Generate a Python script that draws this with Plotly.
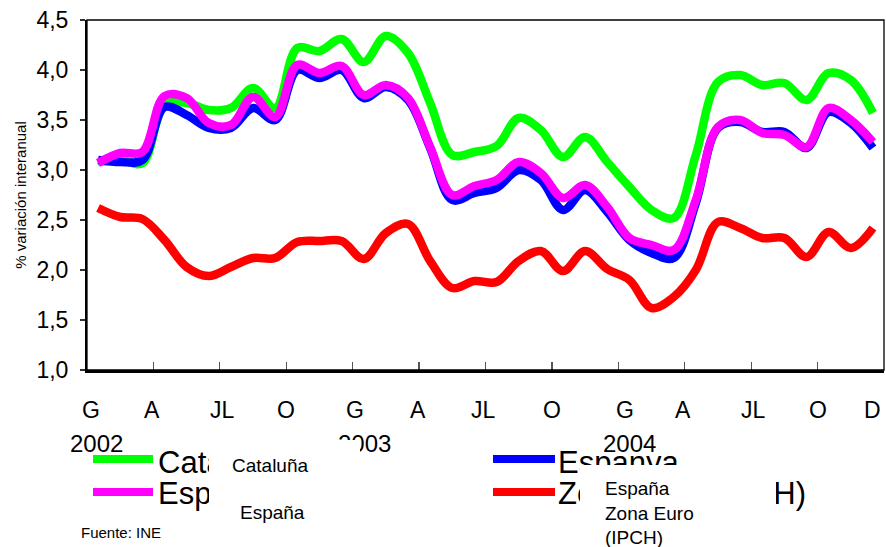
import plotly.graph_objects as go

# ---------------- data ----------------
months = list(range(36))  # Jan 2002 .. Dec 2004 (monthly)

catalunya = [3.08, 3.10, 3.07, 3.65, 3.67, 3.60, 3.62, 3.82, 3.62,
             4.22, 4.19, 4.31, 4.08, 4.34, 4.17, 3.67, 3.15, 3.18,
             3.24, 3.52, 3.40, 3.13, 3.33, 3.08, 2.83, 2.60, 2.52,
             3.15, 3.88, 3.95, 3.85, 3.87, 3.70, 3.97, 3.90, 3.57]

espanya = [3.10, 3.08, 3.10, 3.63, 3.55, 3.42, 3.42, 3.62, 3.50,
           4.00, 3.92, 4.00, 3.72, 3.83, 3.70, 3.22, 2.70, 2.77,
           2.82, 3.00, 2.90, 2.60, 2.80, 2.58, 2.30, 2.17, 2.12,
           2.67, 3.42, 3.48, 3.38, 3.38, 3.22, 3.58, 3.47, 3.22]

espanya_ipch = [3.07, 3.17, 3.18, 3.74, 3.72, 3.47, 3.45, 3.73, 3.53,
                4.05, 3.97, 4.04, 3.75, 3.85, 3.72, 3.23, 2.75, 2.84,
                2.90, 3.08, 2.97, 2.72, 2.85, 2.63, 2.32, 2.25, 2.20,
                2.70, 3.43, 3.50, 3.37, 3.35, 3.23, 3.62, 3.50, 3.28]

zona_euro = [2.62, 2.53, 2.51, 2.30, 2.03, 1.94, 2.03, 2.12, 2.12,
             2.28, 2.29, 2.29, 2.11, 2.37, 2.46, 2.09, 1.82, 1.89,
             1.88, 2.09, 2.19, 1.99, 2.19, 2.01, 1.90, 1.62, 1.73,
             2.00, 2.48, 2.42, 2.32, 2.32, 2.13, 2.38, 2.22, 2.42]

month_labels = ["G", "A", "JL", "O", "G", "A", "JL", "O", "G", "A", "JL", "O", "D"]
month_label_pos = [-0.3, 2.45, 5.6, 8.5, 11.6, 14.45, 17.4, 20.5, 23.8, 26.4, 29.6, 32.5, 35.0]
year_labels = ["2002", "2003", "2004"]
year_label_pos = [-0.05, 12.05, 24.0]

legend_big = ["Catalunya", "Espanya", "Espanya (IPCH)", "Zona Euro (IPCH)"]
legend_small_left = ["Cataluña", "España"]
legend_small_right = "España<br>Zona Euro<br>(IPCH)"

# ---------------- geometry ----------------
W, H = 886, 547
L, R, T, B = 87, 884, 20, 370
FONT = "Liberation Sans, Arial, sans-serif"


def px(x):
    return (x - L) / (R - L)


def py(y):
    return (B - y) / (B - T)


fig = go.Figure()

series = [
    ("Catalunya", catalunya, "#00FF00"),
    ("Espanya", espanya, "#0000FF"),
    ("Espanya (IPCH)", espanya_ipch, "#FF00FF"),
    ("Zona Euro (IPCH)", zona_euro, "#FF0000"),
]
for name, vals, col in series:
    fig.add_trace(go.Scatter(
        x=months, y=vals, name=name, mode="lines",
        line=dict(color=col, width=8.5, shape="spline", smoothing=1.0),
        hoverinfo="skip"))

ann = []
# month tick labels
for lab, pos in zip(month_labels, month_label_pos):
    ann.append(dict(x=pos, xref="x", y=py(410), yref="paper", text=lab,
                    showarrow=False, xanchor="center", yanchor="middle",
                    font=dict(size=23, color="black", family=FONT)))

# big legend texts (Catalan) — drawn first, partially hidden later
big_pos = [(156, 462), (556, 462), (156, 493), (556, 493)]
for txt, (bx, by) in zip(legend_big, big_pos):
    ann.append(dict(x=px(bx), xref="paper", y=py(by), yref="paper", text=txt,
                    showarrow=False, xanchor="left", yanchor="middle",
                    font=dict(size=31, color="black", family=FONT)))

# year labels
for lab, pos in zip(year_labels, year_label_pos):
    ann.append(dict(x=pos, xref="x", y=py(443), yref="paper", text=lab,
                    showarrow=False, xanchor="center", yanchor="middle",
                    font=dict(size=24, color="black", family=FONT)))

# white boxes hiding parts of legend
boxes = [(209, 440, 360, 478), (209, 478, 400, 547), (580, 465, 776, 547)]
for x0, y0, x1, y1 in boxes:
    ann.append(dict(x=px(x0), xref="paper", y=py(y0), yref="paper", text="\u00a0",
                    showarrow=False, xanchor="left", yanchor="top",
                    width=x1 - x0, height=y1 - y0, bgcolor="white",
                    borderpad=0, borderwidth=0, font=dict(size=10)))

# small Spanish labels
ann.append(dict(x=px(230), xref="paper", y=py(465), yref="paper", text=legend_small_left[0],
                showarrow=False, xanchor="left", yanchor="middle",
                font=dict(size=19, color="black", family=FONT)))
ann.append(dict(x=px(238), xref="paper", y=py(512), yref="paper", text=legend_small_left[1],
                showarrow=False, xanchor="left", yanchor="middle",
                font=dict(size=19, color="black", family=FONT)))
ann.append(dict(x=px(603), xref="paper", y=py(476), yref="paper", text=legend_small_right,
                showarrow=False, xanchor="left", yanchor="top", align="left",
                font=dict(size=19, color="black", family=FONT)))

# source
ann.append(dict(x=px(79), xref="paper", y=py(532), yref="paper", text="Fuente: INE",
                showarrow=False, xanchor="left", yanchor="middle",
                font=dict(size=15, color="black", family=FONT)))

shapes = [
    # plot frame
    dict(type="rect", xref="paper", yref="paper", x0=0, x1=1, y0=0, y1=1,
         line=dict(color="black", width=1.3), layer="above"),
]
# legend line samples
legend_lines = [(93, 153, 459, "#00FF00"), (493, 555, 459, "#0000FF"),
                (93, 153, 492, "#FF00FF"), (493, 555, 492, "#FF0000")]
for x0, x1, yy, col in legend_lines:
    shapes.append(dict(type="line", xref="paper", yref="paper",
                       x0=px(x0), x1=px(x1), y0=py(yy), y1=py(yy),
                       line=dict(color=col, width=8)))

fig.update_layout(
    width=W, height=H,
    margin=dict(l=L, r=W - R, t=T, b=H - B, autoexpand=False),
    paper_bgcolor="white", plot_bgcolor="white",
    showlegend=False,
    separators=",.",
    font=dict(family=FONT, color="black"),
    annotations=ann, shapes=shapes,
    xaxis=dict(range=[-0.5, 35.5], tickmode="array",
               tickvals=[2.5 + 3 * k for k in range(11)],
               showticklabels=False, ticks="inside", ticklen=8,
               tickcolor="#555555", tickwidth=1.3,
               showgrid=False, zeroline=False,
               showline=True, linecolor="black", linewidth=2.5),
    yaxis=dict(range=[1.0, 4.5], tick0=1.0, dtick=0.5, tickformat=".1f",
               ticks="outside", ticklen=5, tickcolor="#333333", tickwidth=1.3,
               tickfont=dict(size=23, family=FONT), ticklabelstandoff=7,
               showgrid=False, zeroline=False,
               showline=True, linecolor="black", linewidth=2,
               title=dict(text="% variación interanual",
                          font=dict(size=15, family=FONT), standoff=6)),
)

fig.write_html("out.html",
               config={"displayModeBar": False, "staticPlot": True},
               post_script="document.body.style.margin='0';document.body.style.overflow='hidden';")
